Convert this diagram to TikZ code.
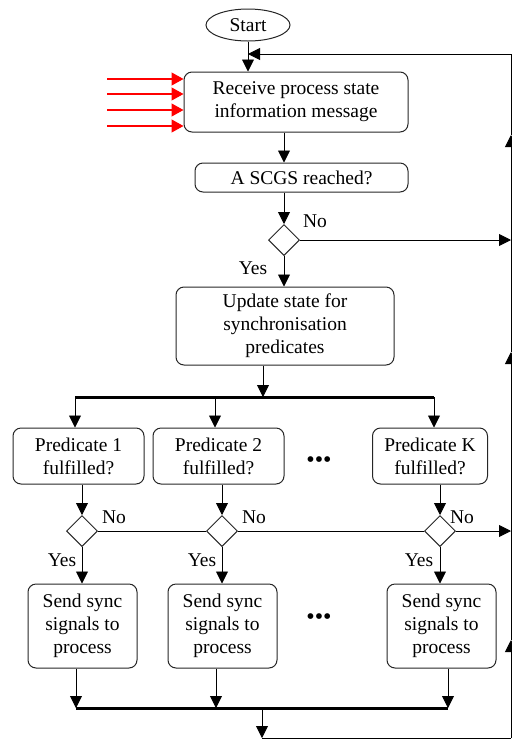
\documentclass[tikz,border=0pt]{standalone}
\usepackage{fontspec}
\setmainfont{Liberation Serif}
\usetikzlibrary{positioning,arrows.meta,shapes.geometric}

\begin{document}
\begin{tikzpicture}[x=1pt, y=-1pt,
  font=\rmfamily\fontsize{19.5}{23}\selectfont,
  box/.style={rectangle, rounded corners=8pt, draw=black!85, line width=1pt,
              inner sep=2pt, align=center},
  term/.style={ellipse, draw=black!85, line width=1pt, minimum width=84pt,
               minimum height=32pt, inner sep=0pt},
  dec/.style={diamond, draw=black!85, line width=1pt, minimum width=31pt,
              minimum height=31pt, inner sep=0pt},
  arr/.style={-{Triangle[length=12pt,width=12pt]}, line width=0.9pt},
  msg/.style={-{Triangle[length=12pt,width=13pt]}, draw=red, line width=1.2pt},
  bus/.style={line width=3pt},
  lbl/.style={inner sep=0pt},
  gap/.style={font=\rmfamily\fontsize{24}{24}\selectfont}
]
\useasboundingbox (0,0) rectangle (512,740);

% main column
\node[term] (start) at (248,25) {Start};
\node[box, minimum width=224pt, minimum height=60pt] (recv) at (296,102)
  {Receive process state\\information message};
\node[box, minimum width=213pt, minimum height=29pt] (scgs) at (301.5,177.5)
  {A SCGS reached?};
\node[dec] (d0) at (284,240) {};
\node[box, minimum width=218pt, minimum height=78pt] (upd) at (285,326)
  {Update state for\\synchronisation\\predicates};

% predicates
\node[box, minimum width=131pt, minimum height=56pt] (p1) at (78.5,456) {Predicate 1\\fulfilled?};
\node[box, minimum width=131pt, minimum height=56pt] (p2) at (218.5,456) {Predicate 2\\fulfilled?};
\node[box, minimum width=115pt, minimum height=56pt] (pk) at (430,456) {Predicate K\\fulfilled?};
\node[gap] (dots1) at (319,462) {•••};

\node[dec] (d1) at (82,531) {};
\node[dec] (d2) at (222,531) {};
\node[dec] (dk) at (440,531) {};

\node[box, minimum width=109pt, minimum height=84pt] (s1) at (82.5,626) {Send sync\\signals to\\process};
\node[box, minimum width=109pt, minimum height=84pt] (s2) at (222.5,626) {Send sync\\signals to\\process};
\node[box, minimum width=109pt, minimum height=84pt] (sk) at (441.5,626) {Send sync\\signals to\\process};
\node[gap] (dots2) at (319,619) {•••};

% labels
\node[lbl] (no0) at (315,221) {No};
\node[lbl] (yes0) at (253,268) {Yes};
\node[lbl] (no1) at (114,517) {No};
\node[lbl] (no2) at (254,517) {No};
\node[lbl] (nok) at (462,517) {No};
\node[lbl] (yes1) at (62,560) {Yes};
\node[lbl] (yes2) at (202,560) {Yes};
\node[lbl] (yesk) at (419,560) {Yes};

% bus and loop points
\coordinate (fork) at (263,397);
\coordinate (forkL) at (75,397);
\coordinate (fork2) at (215,397);
\coordinate (forkR) at (434,397);
\coordinate (join) at (262,708);
\coordinate (joinL) at (76,708);
\coordinate (join2) at (216,708);
\coordinate (joinR) at (448,708);
\coordinate (back) at (262,738);
\coordinate (corner) at (511,738);
\coordinate (up1) at (511,640);
\coordinate (up2) at (511,352);
\coordinate (up3) at (511,135);
\coordinate (top) at (511,54);

% incoming messages
\foreach \y [count=\i] in {79,94,110,126}{
  \coordinate (in\i) at (107,\y);
  \draw[msg] (in\i) -- (in\i -| recv.west);
}

\draw[arr] (start.south) -- (start.south |- recv.north);
\draw[arr] (scgs |- recv.south) ++(-17.5,0) coordinate (r1) -- (r1 |- scgs.north);
\draw[arr] (d0 |- scgs.south) -- (d0.north);
\draw[arr] (d0.east) -- (d0 -| top);
\draw[arr] (d0.south) -- (d0 |- upd.north);
\draw[arr] (fork |- upd.south) -- (fork);

\draw[bus] (forkL) -- (forkR);
\draw[arr] (forkL) -- (forkL |- p1.north);
\draw[arr] (fork2) -- (fork2 |- p2.north);
\draw[arr] (forkR) -- (forkR |- pk.north);

\draw[arr] (d1 |- p1.south) -- (d1.north);
\draw[arr] (d2 |- p2.south) -- (d2.north);
\draw[arr] (dk |- pk.south) -- (dk.north);
\draw[line width=0.9pt] (d1.east) -- (d2.west) (d2.east) -- (dk.west);
\draw[arr] (dk.east) -- (dk -| top);

\draw[arr] (d1.south) -- (d1 |- s1.north);
\draw[arr] (d2.south) -- (d2 |- s2.north);
\draw[arr] (dk.south) -- (dk |- sk.north);

\draw[arr] (joinL |- s1.south) -- (joinL);
\draw[arr] (join2 |- s2.south) -- (join2);
\draw[arr] (joinR |- sk.south) -- (joinR);
\draw[bus] (joinL) -- (joinR);

% loop back
\draw[arr] (join) -- (back);
\draw[line width=0.9pt] (back) -- (corner);
\draw[arr] (corner) -- (up1);
\draw[arr] (up1) -- (up2);
\draw[arr] (up2) -- (up3);
\draw[line width=0.9pt] (up3) -- (top);
\draw[arr] (top) -- (start.south |- top);
\end{tikzpicture}
\end{document}
